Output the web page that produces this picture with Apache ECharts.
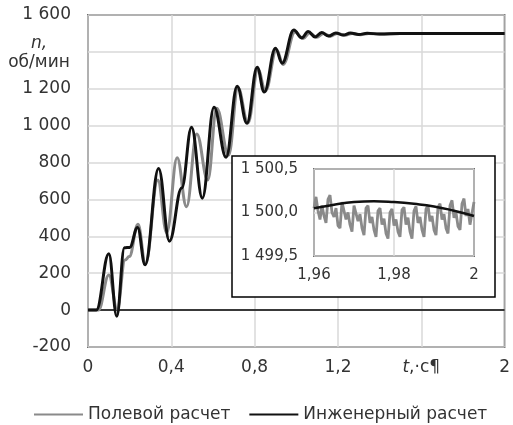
<!DOCTYPE html>
<html>
<head>
<meta charset="utf-8">
<script src="https://cdn.jsdelivr.net/npm/echarts@6/dist/echarts.min.js"></script>
<style>
  html, body { margin: 0; padding: 0; background: #fff; }
  #chart { width: 513px; height: 425px; }
</style>
</head>
<body>
<div id="chart"></div>
<script>
// Speed n (rpm) vs time t (s): field calculation vs engineering calculation
const seriesNames = ['Полевой расчет', 'Инженерный расчет'];

// Main plot, [t, n] turning points
const fieldMain = [
  [0, 0], [0.05, 0], [0.1, 190], [0.14, 5], [0.178, 272], [0.198, 290],
  [0.24, 465], [0.276, 250], [0.335, 705], [0.378, 420], [0.428, 826],
  [0.473, 560], [0.522, 955], [0.575, 705], [0.618, 1095], [0.675, 840],
  [0.72, 1205], [0.768, 1015], [0.816, 1305], [0.852, 1188], [0.905, 1412],
  [0.937, 1332], [0.994, 1508], [1.033, 1472], [1.064, 1503], [1.098, 1479],
  [1.13, 1500], [1.163, 1485], [1.198, 1500], [1.233, 1490], [1.268, 1500],
  [1.308, 1493], [1.348, 1500], [1.4, 1497], [1.5, 1500], [2, 1500]
];
const engineeringMain = [
  [0, 0], [0.04, 0], [0.1, 305], [0.138, -33], [0.175, 338], [0.2, 340],
  [0.238, 448], [0.274, 246], [0.339, 768], [0.391, 374], [0.45, 662],
  [0.497, 992], [0.549, 607], [0.605, 1100], [0.663, 829], [0.716, 1214],
  [0.763, 1013], [0.812, 1317], [0.846, 1182], [0.9, 1420], [0.932, 1339],
  [0.988, 1518], [1.026, 1476], [1.057, 1510], [1.09, 1481], [1.122, 1505],
  [1.155, 1486], [1.19, 1503], [1.225, 1491], [1.26, 1502], [1.3, 1494],
  [1.34, 1501], [1.4, 1497], [1.5, 1500], [2, 1500]
];

// Inset: last 40 ms, sampled every 0.5 ms from 1.96 s
const insetStart = 1.96;
const insetStep = 0.0005;
const fieldInset = [
  1500.05, 1500.18, 1500.02, 1499.92, 1500.08, 1499.96, 1499.88, 1500.15,
  1500.20, 1500.00, 1499.95, 1500.05, 1499.85, 1499.82, 1500.12, 1500.10,
  1499.92, 1500.00, 1499.86, 1499.78, 1500.08, 1500.06, 1499.90, 1499.98,
  1499.82, 1499.74, 1500.05, 1500.08, 1499.88, 1499.95, 1499.80, 1499.72,
  1500.02, 1500.05, 1499.86, 1499.93, 1499.76, 1499.70, 1500.00, 1500.04,
  1499.85, 1499.92, 1499.78, 1499.72, 1500.03, 1500.06, 1499.86, 1499.94,
  1499.78, 1499.70, 1500.02, 1500.07, 1499.88, 1499.95, 1499.80, 1499.72,
  1500.04, 1500.08, 1499.90, 1499.96, 1499.80, 1499.74, 1500.06, 1500.10,
  1499.92, 1499.98, 1499.82, 1499.76, 1500.08, 1500.14, 1499.94, 1500.00,
  1499.84, 1499.80, 1500.10, 1500.16, 1499.96, 1500.04, 1499.86, 1499.84,
  1500.12
];
const engineeringInset = [
  [1.96, 1500.05], [1.965, 1500.09], [1.97, 1500.12], [1.975, 1500.13],
  [1.98, 1500.12], [1.985, 1500.10], [1.99, 1500.07], [1.995, 1500.02],
  [2.0, 1499.96]
];

// Axis tick settings
const mainX = { min: 0, max: 2, interval: 0.4 };
const mainY = { min: -200, max: 1600, interval: 200 };
const insetX = { min: 1.96, max: 2, interval: 0.02 };
const insetY = { min: 1499.5, max: 1500.5, interval: 0.5 };
const timeTitleTick = 1.6;
const speedTitleTick = 1400;
const zeroLevel = 0;

const fieldInsetPairs = fieldInset.map((v, i) => [insetStart + i * insetStep, v]);

function groupThousands(str) {
  const neg = str.startsWith('-');
  const s = neg ? str.slice(1) : str;
  const parts = s.split('.');
  const intPart = parts[0].replace(/\B(?=(\d{3})+(?!\d))/g, ' ');
  return (neg ? '-' : '') + intPart + (parts[1] !== undefined ? ',' + parts[1] : '');
}

const FONT = 'DejaVu Sans';
const TEXT = '#333';

const chart = echarts.init(document.getElementById('chart'), null, { renderer: 'canvas' });

chart.setOption({
  animation: false,
  backgroundColor: '#fff',
  textStyle: { fontFamily: FONT },
  legend: {
    data: seriesNames.map(n => ({ name: n, icon: 'rect' })),
    left: 29,
    top: 401,
    itemWidth: 49,
    itemHeight: 2,
    itemGap: 19,
    textStyle: { fontFamily: FONT, fontSize: 17, color: TEXT }
  },
  grid: [
    { left: 88, top: 15, width: 419, height: 332, show: true,
      borderColor: '#000', borderWidth: 1.5, backgroundColor: 'transparent' },
    { left: 314, top: 169, width: 160, height: 87, show: true, z: 10,
      borderColor: '#000', borderWidth: 1.5, backgroundColor: 'transparent' }
  ],
  graphic: [
    { type: 'rect', z: 5, shape: { x: 232, y: 156, width: 263, height: 141 },
      style: { fill: '#fff', stroke: '#000', lineWidth: 1.5 } }
  ],
  xAxis: [
    {
      gridIndex: 0, type: 'value', min: mainX.min, max: mainX.max, interval: mainX.interval,
      axisLine: { show: false, onZero: false },
      axisTick: { show: false },
      splitLine: { lineStyle: { color: '#d9d9d9', width: 1.5 } },
      axisLabel: {
        margin: 12, fontSize: 17, color: TEXT, fontFamily: FONT,
        formatter: v => {
          const r = Math.round(v * 10) / 10;
          if (r === timeTitleTick) return '{t|t},·с¶';
          return String(r).replace('.', ',');
        },
        rich: { t: { fontStyle: 'italic', fontSize: 17, fontFamily: FONT, color: TEXT } }
      }
    },
    {
      gridIndex: 1, type: 'value', min: insetX.min, max: insetX.max, interval: insetX.interval, z: 10,
      axisLine: { show: false },
      axisTick: { show: false },
      splitLine: { lineStyle: { color: '#d9d9d9', width: 1.5 } },
      axisLabel: {
        margin: 12, fontSize: 15, color: TEXT, fontFamily: FONT,
        formatter: v => {
          const r = Math.round(v * 100) / 100;
          return r === 2 ? '2' : r.toFixed(2).replace('.', ',');
        }
      }
    }
  ],
  yAxis: [
    {
      gridIndex: 0, type: 'value', min: mainY.min, max: mainY.max, interval: mainY.interval,
      axisLine: { show: false },
      axisTick: { show: false },
      splitLine: { lineStyle: { color: '#d9d9d9', width: 1.5 } },
      axisLabel: {
        margin: 17, fontSize: 17, color: TEXT, fontFamily: FONT,
        formatter: v => v === speedTitleTick ? '{n|n,}\n{u|об/мин}' : groupThousands(String(v)),
        rich: {
          n: { fontStyle: 'italic', fontSize: 17, fontFamily: FONT, color: TEXT,
               width: 64, align: 'center', lineHeight: 22, padding: [6, 0, 0, 0] },
          u: { fontSize: 17, fontFamily: FONT, color: TEXT,
               width: 64, align: 'center', lineHeight: 22 }
        }
      }
    },
    {
      gridIndex: 1, type: 'value', min: insetY.min, max: insetY.max, interval: insetY.interval, z: 10,
      axisLine: { show: false },
      axisTick: { show: false },
      splitLine: { lineStyle: { color: '#d9d9d9', width: 1.5 } },
      axisLabel: {
        margin: 16, fontSize: 15, color: TEXT, fontFamily: FONT,
        formatter: v => groupThousands((Math.round(v * 10) / 10).toFixed(1))
      }
    }
  ],
  series: [
    {
      name: seriesNames[0], type: 'line', xAxisIndex: 0, yAxisIndex: 0,
      data: fieldMain, showSymbol: false, symbol: 'none',
      smooth: 0.4, smoothMonotone: 'x', z: 2,
      lineStyle: { color: '#8a8a8a', width: 3 }, itemStyle: { color: '#8a8a8a' },
      markLine: {
        silent: true, symbol: 'none', label: { show: false },
        lineStyle: { color: '#000', width: 1.5, type: 'solid' },
        data: [{ yAxis: zeroLevel }], z: 1
      }
    },
    {
      name: seriesNames[1], type: 'line', xAxisIndex: 0, yAxisIndex: 0,
      data: engineeringMain, showSymbol: false, symbol: 'none',
      smooth: 0.4, smoothMonotone: 'x', z: 3,
      lineStyle: { color: '#111', width: 3 }, itemStyle: { color: '#111' }
    },
    {
      name: 'inset-field', type: 'line', xAxisIndex: 1, yAxisIndex: 1,
      data: fieldInsetPairs, showSymbol: false, symbol: 'none', z: 20,
      lineStyle: { color: '#8a8a8a', width: 2.8 }
    },
    {
      name: 'inset-engineering', type: 'line', xAxisIndex: 1, yAxisIndex: 1,
      data: engineeringInset, showSymbol: false, symbol: 'none', smooth: 0.5, z: 21,
      lineStyle: { color: '#111', width: 2.5 }
    }
  ]
});
</script>
</body>
</html>
